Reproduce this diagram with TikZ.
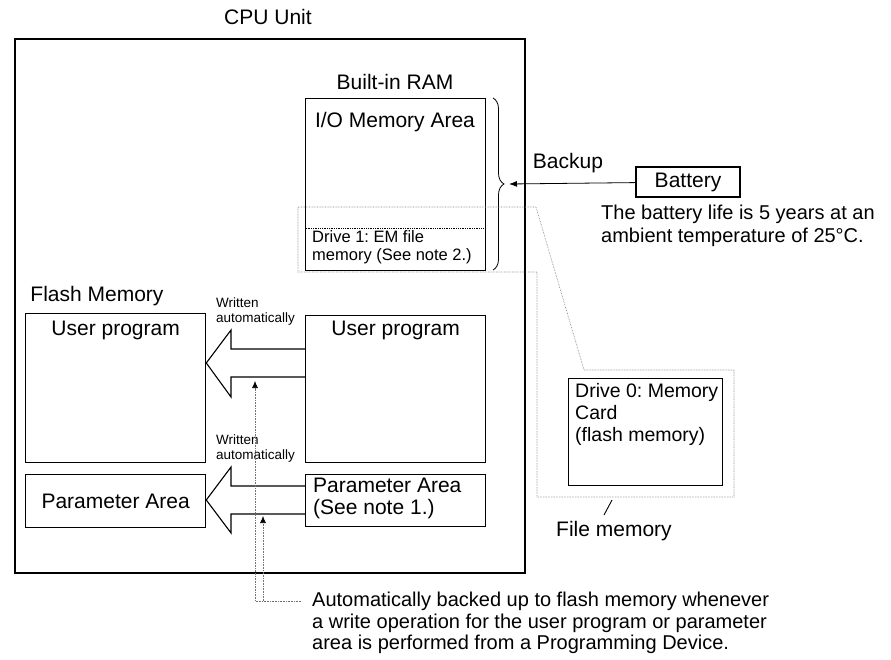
\documentclass[tikz,border=0pt]{standalone}
\usepackage{fontspec}
\setmainfont{Liberation Sans}
\frenchspacing
\usetikzlibrary{arrows.meta,positioning,calc,decorations.pathreplacing}

\begin{document}
\begin{tikzpicture}[x=1pt, y=-1pt,
    box/.style={draw, line width=1.3pt, inner sep=0pt, anchor=north west},
    lbl/.style={font=\fontsize{21}{22}\selectfont, inner sep=0pt, align=left},
    small/.style={font=\fontsize{16.5}{18}\selectfont, inner sep=0pt, align=left, anchor=north west},
    wrt/.style={font=\fontsize{13.5}{15}\selectfont, inner sep=0pt, align=left, anchor=north west},
    note/.style={font=\fontsize{20}{21.5}\selectfont, inner sep=0pt, align=left, anchor=north west},
    dots/.style={densely dotted, black!55, line width=0.6pt},
    arr/.style={-{Latex[length=8pt,width=6pt]}, line width=0.8pt},
    hollow/.style={line width=1.1pt, line join=miter}
]
\useasboundingbox (0,0) rectangle (891,660);

% CPU unit
\node[box, line width=1.6pt, minimum width=510, minimum height=534] (cpu) at (14,38) {};
\node[lbl] (cpulbl) at (268,17) {CPU Unit};

% built-in RAM
\node[lbl] (ramlbl) at (395,82) {Built-in RAM};
\node[box, densely dotted, line width=1pt, minimum width=180, minimum height=42] (drv1) at (305,228) {};
\node[box, minimum width=180, minimum height=172] (io) at (305,98) {};
\node[lbl] (iolbl) at (395,122) {I/O Memory Area};
\node[small] (drv1lbl) at (312,230) {Drive 1: EM file\\memory (See note 2.)};
\draw[line width=0.8pt, decorate, decoration={brace, amplitude=11pt}] (493,98) -- (493,270);
\coordinate (tip) at (509,184);

% battery
\node[draw, line width=1.3pt, minimum width=104, minimum height=30, inner sep=0pt,
      font=\fontsize{21}{22}\selectfont] (bat) at (688,182) {Battery};
\node[lbl] (bklbl) at (568,163) {Backup};
\draw[arr] (bat) -- (tip);
\node[note, font=\fontsize{20}{23}\selectfont] (batlife) at (601,205)
    {The battery life is 5 years at an\\ambient temperature of 25°C.};

% flash memory
\node[lbl] (flashlbl) at (97,296) {Flash Memory};
\node[box, minimum width=180, minimum height=149] (prgL) at (25,313) {};
\node[lbl] at ($(prgL.north)+(0,17)$) {User program};
\node[box, minimum width=180, minimum height=53] (parL) at (25,474) {};
\node[lbl] at (parL) {Parameter Area};

% RAM side
\node[box, minimum width=180, minimum height=147] (prgR) at (305,315) {};
\node[lbl] at ($(prgR.north)+(0,15)$) {User program};
\node[box, minimum width=180, minimum height=52] (parR) at (305,474) {};
\node[lbl, anchor=north west] at (313,478) {Parameter Area\\(See note 1.)};

% written automatically
\node[wrt] (wr1) at (216,298) {Written\\automatically};
\node[wrt] (wr2) at (216,435) {Written\\automatically};
\draw[hollow] (prgR.west |- 0,349) -- (231,349) -- (231,330) -- (prgL.east |- 0,363)
    -- (231,397) -- (231,377) -- (prgR.west |- 0,377);
\draw[hollow] (parR.west |- 0,486) -- (231,486) -- (231,467) -- (parL.east |- 0,500)
    -- (231,533) -- (231,514) -- (parR.west |- 0,514);

% backup note
\node[note] (bnote) at (312,592) {Automatically backed up to flash memory whenever\\a write operation for the user program or parameter\\area is performed from a Programming Device.};
\coordinate (nb) at (301,601);
\draw[dots, -{Latex[length=7pt,width=6pt,black]}] (nb) -- (255,601) -- (255,381);
\draw[dots, -{Latex[length=7pt,width=6pt,black]}] (263,601) -- (263,516);

% file memory
\draw[dots] (298,207) -- (536,207) -- (584,370) -- (734,370) -- (734,497)
    -- (537,497) -- (537,272) -- (298,272) -- cycle;
\node[box, minimum width=154, minimum height=107] (drv0) at (568,378) {};
\node[lbl, anchor=north west, font=\fontsize{19.5}{22}\selectfont] at (575,383) {Drive 0: Memory\\Card\\(flash memory)};
\node[lbl, anchor=west] (fmlbl) at (556,531) {File memory};
\coordinate (sl) at (612,500);
\draw[line width=0.9pt] (sl) -- ($(fmlbl.north west)+(48,-6)$);
\end{tikzpicture}
\end{document}
